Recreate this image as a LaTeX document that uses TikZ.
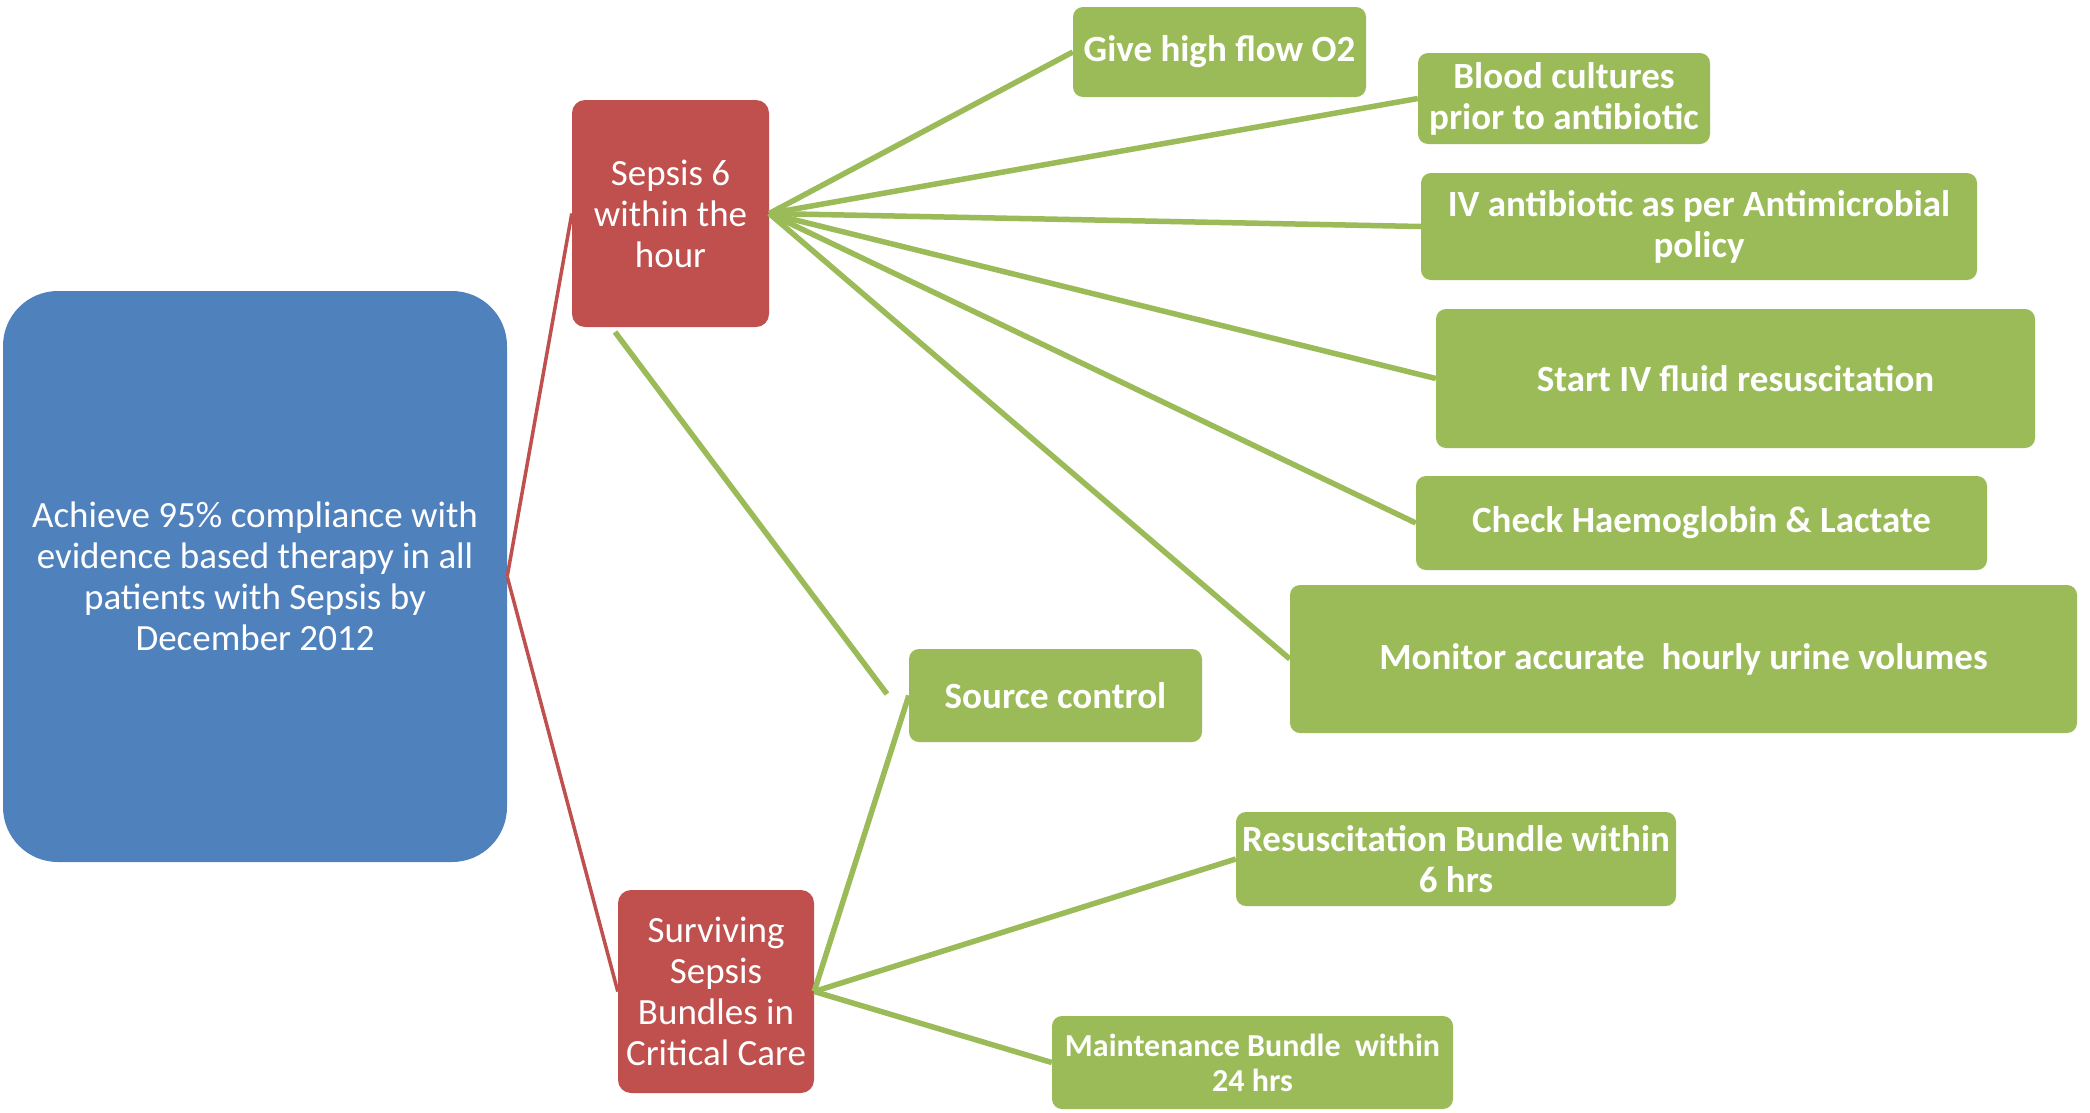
\documentclass[tikz,border=0pt]{standalone}
\usepackage{fontspec}
\setmainfont{Carlito}
\definecolor{cblue}{HTML}{4F81BD}
\definecolor{cred}{HTML}{C0504D}
\definecolor{cgreen}{HTML}{9BBB59}
\tikzset{
  box/.style={text=white, align=center, inner sep=0pt, font=\fontsize{37}{41}\selectfont},
  goal/.style={box, fill=cblue, rounded corners=55pt},
  mid/.style={box, fill=cred, rounded corners=13pt},
  leaf/.style={box, fill=cgreen, rounded corners=10pt, font=\fontsize{37}{41}\selectfont\bfseries},
  redline/.style={draw=cred, line width=3.5pt},
  greenline/.style={draw=cgreen, line width=5.5pt},
}
\newcommand{\boxat}[6]{%
  \node[#1, minimum width={#5-#3}, minimum height={#6-#4}] (#2) at ({(#3+#5)/2},{(#4+#6)/2})}
\begin{document}
\begin{tikzpicture}[x=1pt,y=-1pt]
\useasboundingbox (0,0) rectangle (2090,1112);
\fill[white] (0,0) rectangle (2090,1112);

\boxat{goal}{goal}{3}{291}{507}{862} {Achieve 95\% compliance with\\evidence based therapy in all\\patients with Sepsis by\\December 2012};
\boxat{mid}{sepsis}{572}{100}{769}{327} {Sepsis 6\\within the\\hour};
\boxat{mid}{surv}{618}{890}{814}{1093} {Surviving\\Sepsis\\Bundles in\\Critical Care};
\boxat{leaf}{o2}{1073}{7}{1366}{97} {Give high flow O2};
\boxat{leaf}{blood}{1418}{53}{1710}{144} {Blood cultures\\prior to antibiotic};
\boxat{leaf}{ivab}{1421}{173}{1977}{280} {IV antibiotic as per Antimicrobial\\policy};
\boxat{leaf}{fluid}{1436}{309}{2035}{448} {Start IV fluid resuscitation};
\boxat{leaf}{check}{1416}{476}{1987}{570} {Check Haemoglobin \& Lactate};
\boxat{leaf}{monitor}{1290}{585}{2077}{733} {Monitor accurate\ \ hourly urine volumes};
\boxat{leaf}{source}{909}{649}{1202}{742} {Source control};
\boxat{leaf}{resus}{1236}{812}{1676}{906} {Resuscitation Bundle within\\6 hrs};
\boxat{leaf, font=\fontsize{32}{35}\selectfont\bfseries}{maint}{1052}{1016}{1453}{1109} {Maintenance Bundle\ \ within\\24 hrs};

\coordinate (sa) at (615,332);
\coordinate (sb) at (887,694);

\draw[redline] (goal.east) -- (sepsis.west);
\draw[redline] (goal.east) -- (surv.west);

\foreach \t in {o2,blood,ivab,fluid,check,monitor}
  \draw[greenline] (sepsis.east) -- (\t.west);
\draw[greenline] (sa) -- (sb);
\draw[greenline] (surv.east) -- (source.west);
\draw[greenline] (surv.east) -- (resus.west);
\draw[greenline] (surv.east) -- (maint.west);
\end{tikzpicture}
\end{document}
